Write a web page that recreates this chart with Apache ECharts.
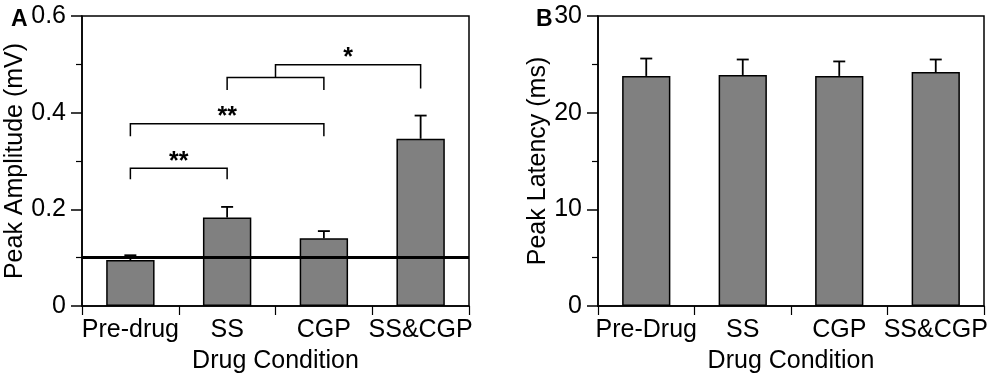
<!doctype html>
<html lang="en">
  <head>
    <meta charset="UTF-8" />
    <title>Peak Amplitude / Latency</title>
    <style>
      html,
      body {
        width: 100%;
        height: 100%;
        margin: 0;
        padding: 0;
        background: #fff;
      }
      #chart {
        width: 992px;
        height: 379px;
      }
    </style>
  </head>
  <body>
    <div id="chart"></div>
    <script src="https://cdn.jsdelivr.net/npm/echarts@6/dist/echarts.min.js"></script>
    <script>
      // panel A data
      const categoriesA = ['Pre-drug', 'SS', 'CGP', 'SS&CGP']
      const amplitude = [0.095, 0.183, 0.14, 0.346]
      const amplitudeErr = [0.01, 0.022, 0.015, 0.048]
      const baselineA = 0.096
      const ticksA = [0, 0.2, 0.4, 0.6]

      // significance brackets: [x1, x2, y, leg1 end, leg2 end]
      const brackets = [
        [0, 1, 0.285, 0.262, 0.262],
        [0, 2, 0.377, 0.351, 0.351],
        [1, 2, 0.473, 0.447, 0.447],
        [1.5, 3, 0.499, 0.473, 0.45],
      ]
      const bracketMarks = ['**', '**', '', '*']

      // panel B data
      const categoriesB = ['Pre-Drug', 'SS', 'CGP', 'SS&CGP']
      const latency = [23.8, 23.9, 23.8, 24.2]
      const latencyErr = [1.8, 1.6, 1.5, 1.3]
      const ticksB = [0, 10, 20, 30]

      const font = 'Liberation Sans, Arial, Helvetica, sans-serif'
      const black = '#000'
      const textSize = 25

      function errorData(vals, errs) {
        return vals.map((v, i) => [i, v, v + errs[i]])
      }

      function renderError(params, api) {
        const base = api.coord([api.value(0), api.value(1)])
        const top = api.coord([api.value(0), api.value(2)])
        const style = { stroke: black, lineWidth: 1.8 }
        return {
          type: 'group',
          children: [
            { type: 'line', shape: { x1: base[0], y1: base[1], x2: top[0], y2: top[1] }, style },
            { type: 'line', shape: { x1: top[0] - 6, y1: top[1], x2: top[0] + 6, y2: top[1] }, style },
          ],
        }
      }

      function renderBracket(params, api) {
        const x1 = api.value(0),
          x2 = api.value(1),
          y = api.value(2)
        const a = api.coord([x1, api.value(3)])
        const b = api.coord([x1, y])
        const c = api.coord([x2, y])
        const d = api.coord([x2, api.value(4)])
        return {
          type: 'group',
          children: [
            {
              type: 'polyline',
              shape: { points: [a, b, c, d] },
              style: { stroke: black, lineWidth: 1.5, fill: null },
            },
            {
              type: 'text',
              x: (b[0] + c[0]) / 2,
              y: b[1] + 6,
              style: {
                text: bracketMarks[params.dataIndex],
                fontSize: 25,
                fontWeight: 'bold',
                fontFamily: font,
                fill: black,
                align: 'center',
                verticalAlign: 'bottom',
              },
            },
          ],
        }
      }

      function valueAxis(gridIndex, name, ticks, gap, fmt) {
        return {
          gridIndex,
          type: 'value',
          min: ticks[0],
          max: ticks[ticks.length - 1],
          interval: ticks[1] - ticks[0],
          name,
          nameLocation: 'middle',
          nameGap: gap,
          nameTextStyle: { fontSize: textSize, fontFamily: font, color: black },
          axisLine: { show: true, onZero: false, lineStyle: { color: black, width: 1.5 } },
          axisTick: { show: true, length: 11, lineStyle: { color: black, width: 1.5 } },
          minorTick: { show: true, splitNumber: 2, length: 6, lineStyle: { color: black, width: 1.2 } },
          splitLine: { show: false },
          axisLabel: { margin: 16, fontSize: textSize, fontFamily: font, color: black, formatter: fmt },
        }
      }

      function categoryAxis(gridIndex, data) {
        return {
          gridIndex,
          type: 'category',
          data,
          name: 'Drug Condition',
          nameLocation: 'middle',
          nameGap: 43,
          nameTextStyle: { fontSize: textSize, fontFamily: font, color: black },
          axisLine: { onZero: false, lineStyle: { color: black, width: 1.5 } },
          axisTick: { show: true, length: 9, alignWithLabel: false, lineStyle: { color: black, width: 1.2 } },
          axisLabel: { interval: 0, margin: 12, fontSize: textSize, fontFamily: font, color: black },
        }
      }

      const barStyle = { color: '#808080', borderColor: black, borderWidth: 1.5 }

      const option = {
        backgroundColor: '#fff',
        animation: false,
        title: [
          { text: 'A', left: 6, top: 3, textStyle: { fontSize: 23, fontWeight: 'bold', fontFamily: font, color: black } },
          { text: 'B', left: 531, top: 3, textStyle: { fontSize: 23, fontWeight: 'bold', fontFamily: font, color: black } },
        ],
        grid: [
          { left: 82, right: 523, top: 16, bottom: 72, show: true, borderColor: black, borderWidth: 1.5 },
          { left: 598, right: 8, top: 16, bottom: 73, show: true, borderColor: black, borderWidth: 1.5 },
        ],
        xAxis: [
          categoryAxis(0, categoriesA),
          { gridIndex: 0, type: 'value', min: -0.5, max: 3.5, show: false },
          categoryAxis(1, categoriesB),
        ],
        yAxis: [
          valueAxis(0, 'Peak Amplitude (mV)', ticksA, 52, (v) => (v === 0 ? '0' : v.toFixed(1))),
          valueAxis(1, 'Peak Latency (ms)', ticksB, 44, (v) => String(v)),
        ],
        series: [
          {
            type: 'bar',
            xAxisIndex: 0,
            yAxisIndex: 0,
            data: amplitude,
            barWidth: '50%',
            itemStyle: barStyle,
            markLine: {
              silent: true,
              symbol: 'none',
              label: { show: false },
              lineStyle: { color: black, width: 3, type: 'solid' },
              data: [{ yAxis: baselineA }],
            },
          },
          {
            type: 'custom',
            xAxisIndex: 0,
            yAxisIndex: 0,
            data: errorData(amplitude, amplitudeErr),
            encode: { x: 0, y: [1, 2] },
            renderItem: renderError,
            z: 3,
          },
          {
            type: 'custom',
            xAxisIndex: 1,
            yAxisIndex: 0,
            data: brackets,
            encode: { x: [0, 1], y: [2, 3, 4] },
            renderItem: renderBracket,
          },
          {
            type: 'bar',
            xAxisIndex: 2,
            yAxisIndex: 1,
            data: latency,
            barWidth: '50%',
            itemStyle: barStyle,
          },
          {
            type: 'custom',
            xAxisIndex: 2,
            yAxisIndex: 1,
            data: errorData(latency, latencyErr),
            encode: { x: 0, y: [1, 2] },
            renderItem: renderError,
            z: 3,
          },
        ],
      }

      const chart = echarts.init(document.getElementById('chart'))
      chart.setOption(option)
    </script>
  </body>
</html>
